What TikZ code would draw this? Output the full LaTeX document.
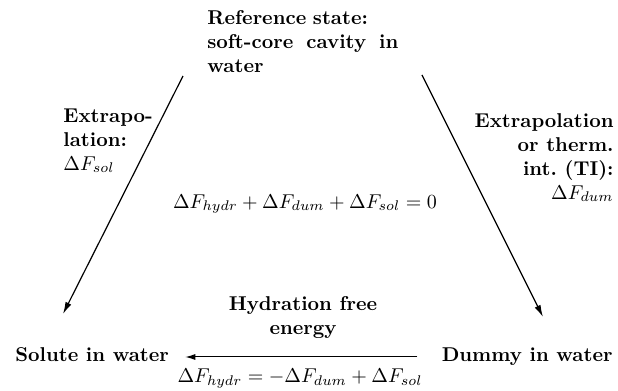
\documentclass[tikz,border=0pt]{standalone}
\usepackage{amsmath}
\usetikzlibrary{arrows.meta}

\begin{document}
\begin{tikzpicture}[
        x=0.5pt, y=-0.5pt,
        lbl/.style={inner sep=0pt, font=\bfseries},
        state/.style={lbl, text height=7pt, text depth=2pt},
        arr/.style={-{Latex[length=6pt, width=3.2pt]}, line width=0.6pt},
        harr/.style={-{Latex[length=5pt, width=3pt]}, line width=0.5pt}
    ]
    \useasboundingbox (0,0) rectangle (618,391);

    % states
    \node[lbl, anchor=base west, text width=95.5pt, align=left] (ref) at (207,25)
        {Reference state:\\soft-core\hfill cavity\hfill in\\water};
    \node[state, anchor=base west] (sol) at (15,362) {Solute in water};
    \node[state, anchor=base east] (dum) at (613,362) {Dummy in water};

    % labels (base = last line)
    \node[lbl, anchor=base west, align=left] (lext) at (63,170)
        {Extrapo-\\lation:\\$\Delta F_{sol}$};
    \node[lbl, anchor=base east, align=right] (rext) at (614,199)
        {Extrapolation\\or therm.\\int.\ (TI):\\$\Delta F_{dum}$};
    \node[anchor=base, inner sep=0pt] (cyc) at (305,208)
        {$\Delta F_{hydr} + \Delta F_{dum} + \Delta F_{sol} = 0$};
    \node[lbl, anchor=base, align=center] (hyd) at (303,335)
        {Hydration free\\energy};
    \node[anchor=base, inner sep=0pt] (heq) at (300,383)
        {$\Delta F_{hydr} = -\Delta F_{dum} + \Delta F_{sol}$};

    % arrow ends
    \coordinate (refl) at (183,76);
    \coordinate (solt) at (63,314);
    \coordinate (refr) at (422,75);
    \coordinate (dumt) at (543,317);

    \draw[arr] (refl) -- (solt);
    \draw[arr] (refr) -- (dumt);
    \draw[harr] ([xshift=-12pt]dum.west) -- ([xshift=8pt]sol.east);
\end{tikzpicture}
\end{document}
